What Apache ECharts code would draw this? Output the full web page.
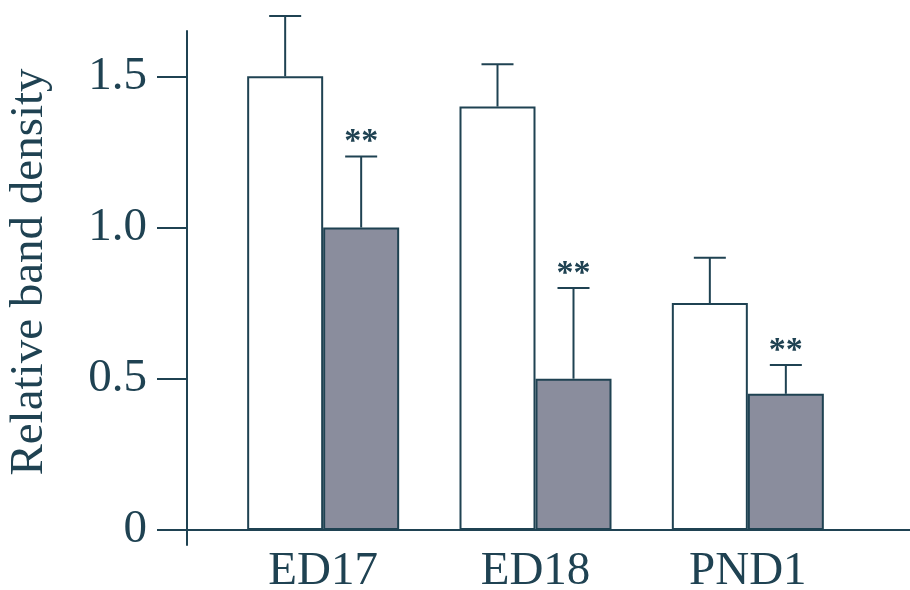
<!DOCTYPE html>
<html>
<head>
<meta charset="utf-8">
<script src="https://cdn.jsdelivr.net/npm/echarts@6/dist/echarts.min.js"></script>
<style>html,body{margin:0;padding:0;background:#fff;}#c{width:910px;height:590px;}</style>
</head>
<body>
<div id="c"></div>
<script>
// ---- data ----
const categories = ['ED17', 'ED18', 'PND1'];
const controlValues = [1.50, 1.40, 0.75];
const controlErrTop = [1.70, 1.54, 0.90];
const treatedValues = [1.00, 0.50, 0.45];
const treatedErrTop = [1.235, 0.80, 0.545];
const treatedSig = ['**', '**', '**'];
const yTickValues = [0, 0.5, 1.0, 1.5];
const yAxisTitle = 'Relative band density';

// ---- style ----
const ink = '#1f4252';
const grayFill = '#8a8d9d';
const font = '"Liberation Serif", "Times New Roman", serif';
const barW = 76;

const chart = echarts.init(document.getElementById('c'));

function errItem(offsetSign) {
  return function (params, api) {
    const c = api.coord([api.value(0), api.value(1)]);
    const t = api.coord([api.value(0), api.value(2)]);
    const x = c[0] + offsetSign * barW / 2;
    const sig = api.value(3);
    const children = [
      { type: 'line', shape: { x1: x, y1: c[1], x2: x, y2: t[1] }, style: { stroke: ink, lineWidth: 2 } },
      { type: 'line', shape: { x1: x - 16, y1: t[1], x2: x + 16, y2: t[1] }, style: { stroke: ink, lineWidth: 2 } }
    ];
    if (sig) {
      children.push({ type: 'text', x: x, y: t[1] - 14, style: { text: sig, font: 'bold 34px ' + font, fill: ink, align: 'center', verticalAlign: 'middle' } });
    }
    return { type: 'group', children: children };
  };
}

const option = {
  animation: false,
  backgroundColor: '#fff',
  grid: [
    { left: 187, right: 0, top: 31, bottom: 45, containLabel: false, outerBoundsMode: 'none' },
    { left: 217, right: 56, top: 31, bottom: 45, containLabel: false, outerBoundsMode: 'none' }
  ],
  xAxis: [
    { gridIndex: 0, type: 'value', min: 0, max: 1,
      axisLine: { show: true, onZero: true, lineStyle: { color: ink, width: 2 } },
      axisTick: { show: false }, axisLabel: { show: false }, splitLine: { show: false } },
    { gridIndex: 1, type: 'category', data: categories,
      axisLine: { show: true, onZero: true, lineStyle: { color: ink, width: 2 } },
      axisTick: { show: false },
      axisLabel: { color: ink, fontSize: 47, fontFamily: font, margin: 3 } }
  ],
  yAxis: [
    { gridIndex: 0, type: 'value', min: -0.05, max: 1.65,
      axisLine: { show: true, lineStyle: { color: ink, width: 2 } },
      axisTick: { show: true, length: 30, customValues: yTickValues, lineStyle: { color: ink, width: 2 } },
      axisLabel: { customValues: yTickValues, color: ink, fontSize: 47, fontFamily: font, margin: 40,
        formatter: v => (v === 0 ? '0' : v.toFixed(1)) },
      splitLine: { show: false } },
    { gridIndex: 1, type: 'value', min: -0.05, max: 1.65, show: false, splitLine: { show: false } }
  ],
  graphic: [
    { type: 'text', x: 30, y: 272, rotation: Math.PI / 2,
      style: { text: yAxisTitle, font: '47px ' + font, fill: ink, align: 'center', verticalAlign: 'middle' } }
  ],
  series: [
    { type: 'bar', xAxisIndex: 1, yAxisIndex: 1, data: controlValues, barWidth: barW, barGap: '0%',
      itemStyle: { color: '#ffffff', borderColor: ink, borderWidth: 2 } },
    { type: 'bar', xAxisIndex: 1, yAxisIndex: 1, data: treatedValues, barWidth: barW, barGap: '0%',
      itemStyle: { color: grayFill, borderColor: ink, borderWidth: 2 } },
    { type: 'custom', xAxisIndex: 1, yAxisIndex: 1, z: 3,
      data: categories.map((c, i) => [i, controlValues[i], controlErrTop[i], '']),
      renderItem: errItem(-1) },
    { type: 'custom', xAxisIndex: 1, yAxisIndex: 1, z: 3,
      data: categories.map((c, i) => [i, treatedValues[i], treatedErrTop[i], treatedSig[i]]),
      renderItem: errItem(1) }
  ]
};
chart.setOption(option);
</script>
</body>
</html>
